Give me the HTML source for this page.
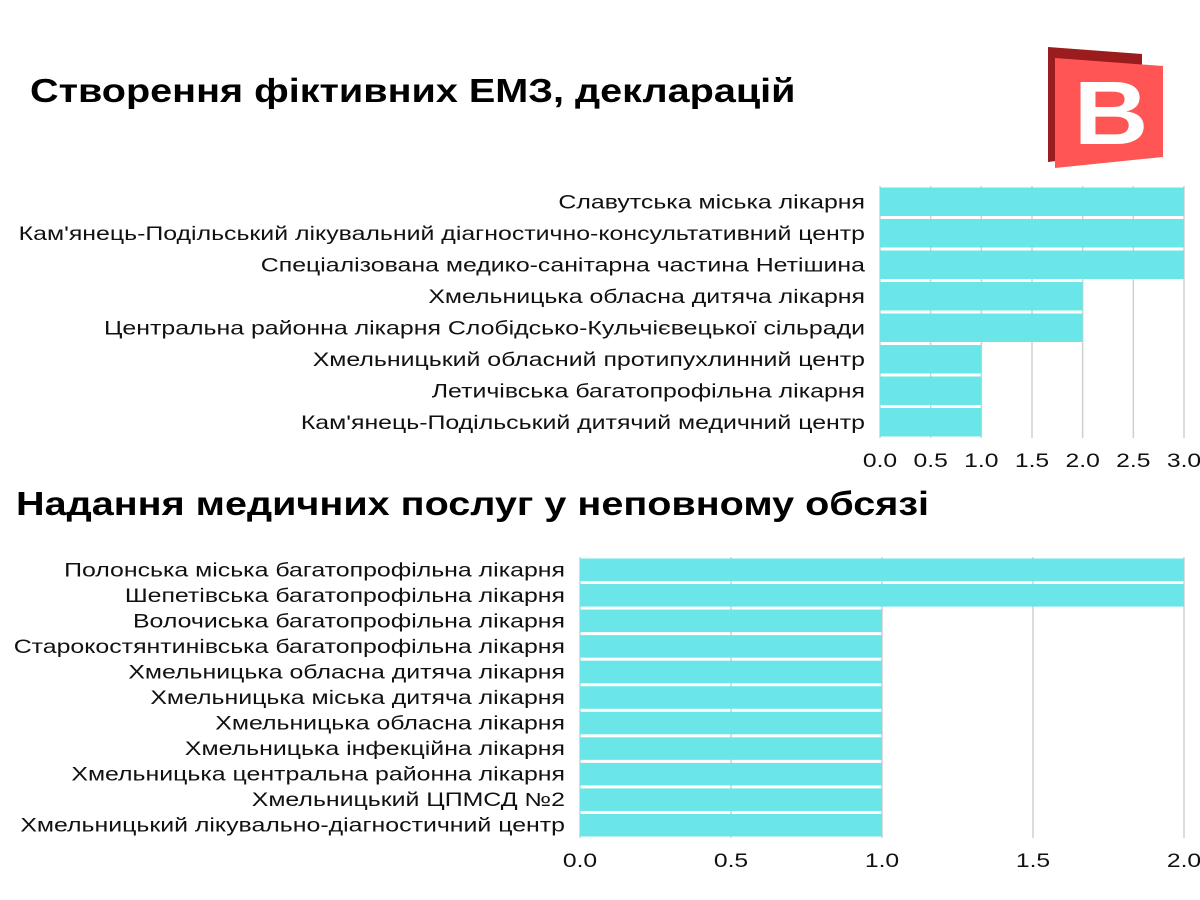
<!DOCTYPE html>
<html><head><meta charset="utf-8"><style>
body{margin:0;background:#fff;}
svg{display:block;font-family:"Liberation Sans",sans-serif;}
</style></head><body>
<svg id="c" width="1200" height="900">
<text transform="translate(30,102) scale(1.2,1)" font-size="33" font-weight="bold" fill="#000">Створення фіктивних ЕМЗ, декларацій</text>
<text transform="translate(16,515) scale(1.2,1)" font-size="33" font-weight="bold" fill="#000">Надання медичних послуг у неповному обсязі</text>
<g>
<polygon points="1048,47 1142,54 1142,150 1048,162" fill="#9b1c1c"/>
<polygon points="1055,58 1163,66 1163,157 1055,168" fill="#ff5555"/>
<text transform="translate(1111,144) scale(1.15,1)" font-size="90" font-weight="bold" fill="#fff" text-anchor="middle">B</text>
</g>
<g id="g1"></g><g id="g2"></g>
</svg>
<script>
const cats1=["Славутська міська лікарня","Кам'янець-Подільський лікувальний діагностично-консультативний центр","Спеціалізована медико-санітарна частина Нетішина","Хмельницька обласна дитяча лікарня","Центральна районна лікарня Слобідсько-Кульчієвецької сільради","Хмельницький обласний протипухлинний центр","Летичівська багатопрофільна лікарня","Кам'янець-Подільський дитячий медичний центр"];
const vals1=[3,3,3,2,2,1,1,1];
const ticks1=["0.0","0.5","1.0","1.5","2.0","2.5","3.0"];
const cats2=["Полонська міська багатопрофільна лікарня","Шепетівська багатопрофільна лікарня","Волочиська багатопрофільна лікарня","Старокостянтинівська багатопрофільна лікарня","Хмельницька обласна дитяча лікарня","Хмельницька міська дитяча лікарня","Хмельницька обласна лікарня","Хмельницька інфекційна лікарня","Хмельницька центральна районна лікарня","Хмельницький ЦПМСД №2","Хмельницький лікувально-діагностичний центр"];
const vals2=[2,2,1,1,1,1,1,1,1,1,1];
const ticks2=["0.0","0.5","1.0","1.5","2.0"];
const NS="http://www.w3.org/2000/svg";
function mk(p,t,a){const e=document.createElementNS(NS,t);for(const k in a)e.setAttribute(k,a[k]);p.appendChild(e);return e;}
function draw(gid,cats,vals,ticks,x0,x1,y0,y1,pre){
 const g=document.getElementById(gid);
 const max=parseFloat(ticks[ticks.length-1]);
 const sx=v=>x0+(x1-x0)*v/max;
 const bh=(y1-y0)/cats.length;
 ticks.forEach((t,i)=>{const v=parseFloat(t);
  const l=mk(g,'line',{x1:sx(v),x2:sx(v),y1:y0,y2:y1,stroke:'#d0d0d0','stroke-width':1.5});
  
  
  const tx=mk(g,'text',{transform:`translate(${sx(v)},${y1+29}) scale(1.3,1)`,'font-size':19,'text-anchor':'middle',fill:'#111'});
  tx.textContent=t;
  
  
 });
 cats.forEach((c,i)=>{
  const r=mk(g,'rect',{x:x0,y:y0+i*bh+1.5,width:sx(vals[i])-x0,height:bh-3,fill:'#6ae5e8'});
  
  
  const tx=mk(g,'text',{transform:`translate(${x0-15},${y0+i*bh+bh/2+6.5}) scale(1.31,1)`,'font-size':19,'text-anchor':'end',fill:'#111'});
  tx.textContent=c;
  
  
 });
}
draw('g1',cats1,vals1,ticks1,880,1184,186,438,'chart1');
draw('g2',cats2,vals2,ticks2,580,1184,557,838,'chart2');
</script>
</body></html>
